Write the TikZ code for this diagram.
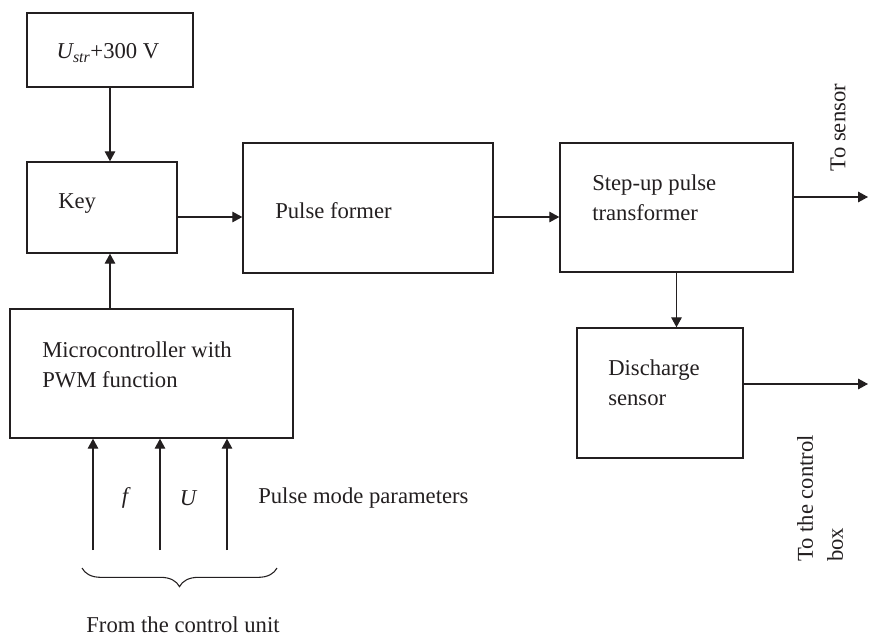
\documentclass[tikz,border=0pt]{standalone}
\usepackage{fontspec}
\setmainfont{Liberation Serif}
\usetikzlibrary{arrows.meta,decorations.pathreplacing,calc}
\definecolor{ink}{HTML}{231F20}
\begin{document}
\begin{tikzpicture}[x=0.75pt,y=-0.75pt,
  font=\fontsize{17}{22.5}\selectfont,
  blk/.style={draw=ink,line width=1.1pt,rectangle,inner sep=0pt},
  txt/.style={inner sep=0pt,text=ink,align=left},
  arr/.style={draw=ink,line width=0.8pt,-{Triangle[length=7.5pt,width=8pt]}}]
\useasboundingbox (0,0) rectangle (869,635);
% boxes
\node[blk,minimum width=124.5pt,minimum height=55.5pt] (ubox) at (110,50) {};
\node[blk,minimum width=112.5pt,minimum height=68.25pt] (key) at (102,207.5) {};
\node[blk,minimum width=187.5pt,minimum height=97.5pt] (pulse) at (368,208) {};
\node[blk,minimum width=174.75pt,minimum height=96.75pt] (step) at (676.5,207.5) {};
\node[blk,minimum width=212.25pt,minimum height=96.75pt] (micro) at (151.5,373.5) {};
\node[blk,minimum width=124.5pt,minimum height=97.5pt] (dis) at (660,393) {};
% texts
\node[txt] (ut) at (108,53) {{\itshape U}\textsubscript{\itshape str}+300 V};
\node[txt,anchor=west] (kt) at (58,204) {Key};
\node[txt,anchor=west] (pt) at (275,211) {Pulse former};
\node[txt,anchor=west] (st) at (592,198) {Step-up pulse\\transformer};
\node[txt,anchor=west] (mt) at (42,365) {Microcontroller with\\PWM function};
\node[txt,anchor=west] (dt) at (608,383) {Discharge\\sensor};
\node[txt] (ft) at (125,498) {\itshape f};
\node[txt] (uut) at (188,498) {\itshape U};
\node[txt,anchor=west] (pmt) at (258,498) {Pulse mode parameters};
\node[txt,anchor=base] (fct) at (183,632) {From the control unit};
\node[txt,rotate=90] (tst) at (838,127.5) {To sensor};
\node[txt,rotate=90,anchor=west] (tcb) at (820,562) {To the control\\box};
% free ends
\coordinate (o1) at (868,197);
\coordinate (o2) at (868,384);
\coordinate (i1) at (93,550);
\coordinate (i2) at (160,550);
\coordinate (i3) at (227,550);
\coordinate (b1) at (277,568);
\coordinate (b2) at (82,568);
% connectors
\draw[arr] (ubox.south) -- (ubox.south |- key.north);
\draw[arr] (micro.north -| ubox.south) -- (key.south -| ubox.south);
\draw[arr] (key.east |- 0,217) -- (pulse.west |- 0,217);
\draw[arr] (pulse.east |- 0,217) -- (step.west |- 0,217);
\draw[arr] (step.east |- o1) -- (o1);
\draw[arr] (step.south) -- (step.south |- dis.north);
\draw[arr] (dis.east |- o2) -- (o2);
\draw[arr] (i1) -- (i1 |- micro.south);
\draw[arr] (i2) -- (i2 |- micro.south);
\draw[arr] (i3) -- (i3 |- micro.south);
\draw[draw=ink,line width=0.8pt,decorate,decoration={brace,amplitude=14pt}] (b1) -- (b2);
\end{tikzpicture}
\end{document}
